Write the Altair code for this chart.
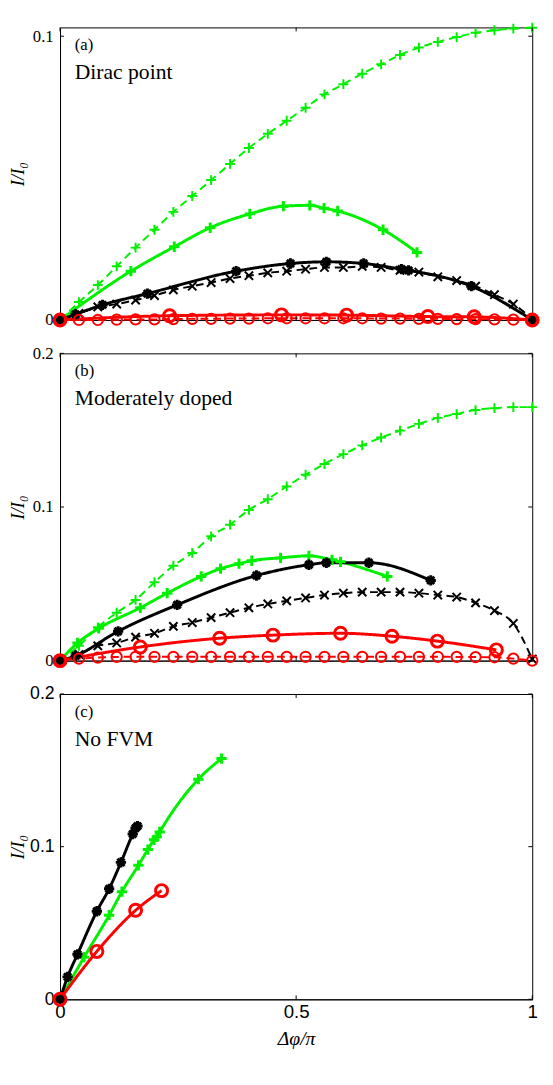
import altair as alt
import pandas as pd

# ---------------- data ----------------
GRID = [0.0, 0.04, 0.08, 0.12, 0.16, 0.2, 0.24, 0.28, 0.32, 0.36, 0.4, 0.44, 0.48,
        0.52, 0.56, 0.6, 0.64, 0.68, 0.72, 0.76, 0.8, 0.84, 0.88, 0.92, 0.96, 1.0]

# Panel (a) Dirac point
A_GD_Y = [0.0, 0.0063, 0.0123, 0.0189, 0.0255, 0.0318, 0.0381, 0.0437, 0.0493, 0.0550,
          0.0606, 0.0656, 0.0702, 0.0748, 0.0795, 0.0831, 0.0868, 0.0901, 0.0934, 0.0960,
          0.0980, 0.0997, 0.1012, 0.1021, 0.1027, 0.1030]
A_GS_X = [0.0, 0.150, 0.242, 0.318, 0.402, 0.473, 0.529, 0.559, 0.588, 0.684, 0.756]
A_GS_Y = [0.0, 0.0172, 0.0258, 0.0325, 0.0374, 0.0401, 0.0404, 0.0394, 0.0384, 0.0318, 0.0238]
A_KD_Y = [0.0, 0.0023, 0.0046, 0.0056, 0.0070, 0.0086, 0.0106, 0.0119, 0.0132, 0.0146,
          0.0156, 0.0166, 0.0172, 0.0179, 0.0185, 0.0185, 0.0189, 0.0185, 0.0175, 0.0169,
          0.0152, 0.0139, 0.0119, 0.0089, 0.0056, 0.0003]
A_KS_X = [0.0, 0.033, 0.090, 0.185, 0.373, 0.488, 0.564, 0.643, 0.723, 0.738, 0.871, 1.0]
A_KS_Y = [0.0, 0.0020, 0.0053, 0.0093, 0.0172, 0.0199, 0.0205, 0.0199, 0.0179, 0.0175, 0.0119, 0.0]
A_RD_Y = [0.0, 0.0, 0.0, 0.0001, 0.0002, 0.0002, 0.0003, 0.0004, 0.0004, 0.0005, 0.0005,
          0.0006, 0.0006, 0.0006, 0.0006, 0.0006, 0.0006, 0.0005, 0.0005, 0.0004, 0.0004,
          0.0003, 0.0003, 0.0002, 0.0001, 0.0]
A_RS_X = [0.0, 0.232, 0.469, 0.607, 0.779, 0.877, 1.0]
A_RS_Y = [0.0, 0.0015, 0.0018, 0.0017, 0.0012, 0.0011, 0.0]

# Panel (b) Moderately doped
B_GD_Y = [0.0, 0.0096, 0.0217, 0.0312, 0.0395, 0.0510, 0.0618, 0.0701, 0.0809, 0.0885,
          0.0981, 0.1051, 0.1134, 0.1210, 0.1280, 0.1344, 0.1401, 0.1452, 0.1497, 0.1541,
          0.1580, 0.1605, 0.1631, 0.1643, 0.1650, 0.1650]
B_GS_X = [0.0, 0.037, 0.082, 0.170, 0.227, 0.299, 0.340, 0.379, 0.406, 0.467, 0.527, 0.576, 0.594, 0.693]
B_GS_Y = [0.0, 0.0115, 0.0210, 0.0344, 0.0439, 0.0548, 0.0599, 0.0631, 0.0650, 0.0669, 0.0682, 0.0656, 0.0643, 0.0548]
B_KD_Y = [0.0, 0.0040, 0.0096, 0.0115, 0.0153, 0.0178, 0.0223, 0.0248, 0.0280, 0.0312,
          0.0344, 0.0369, 0.0389, 0.0408, 0.0427, 0.0439, 0.0446, 0.0446, 0.0446, 0.0439,
          0.0427, 0.0414, 0.0376, 0.0325, 0.0242, 0.0010]
B_KS_X = [0.0, 0.033, 0.123, 0.248, 0.416, 0.527, 0.564, 0.654, 0.785]
B_KS_Y = [0.0, 0.0032, 0.0191, 0.0363, 0.0554, 0.0624, 0.0637, 0.0637, 0.0522]
B_RD_Y = [0.0, 0.0013, 0.0020, 0.0024, 0.0025, 0.0025, 0.0025, 0.0025, 0.0025, 0.0025,
          0.0025, 0.0025, 0.0025, 0.0025, 0.0025, 0.0025, 0.0025, 0.0025, 0.0025, 0.0025,
          0.0025, 0.0024, 0.0023, 0.0022, 0.0013, 0.0]
B_RS_X = [0.0, 0.170, 0.338, 0.451, 0.594, 0.703, 0.799, 0.924]
B_RS_Y = [0.0, 0.0089, 0.0146, 0.0166, 0.0178, 0.0159, 0.0127, 0.0070]

# Panel (c) No FVM
C_KS_X = [0.0, 0.016, 0.037, 0.078, 0.104, 0.129, 0.154, 0.160, 0.164]
C_KS_Y = [0.0, 0.0147, 0.0295, 0.0577, 0.0724, 0.0897, 0.1083, 0.1122, 0.1135]
C_GS_X = [0.0, 0.051, 0.104, 0.131, 0.166, 0.186, 0.199, 0.205, 0.211, 0.293, 0.342]
C_GS_Y = [0.0, 0.0276, 0.0551, 0.0705, 0.0878, 0.0981, 0.1045, 0.1064, 0.1096, 0.1442, 0.1577]
C_RS_X = [0.0, 0.078, 0.160, 0.215]
C_RS_Y = [0.0, 0.0314, 0.0583, 0.0712]

PANEL_TAGS = ["(a)", "(b)", "(c)"]
PANEL_NAMES = ["Dirac point", "Moderately doped", "No FVM"]
X_TICKS = [0, 0.5, 1]
Y_TICKS_A = [0, 0.1]
Y_TICKS_BC = [0, 0.1, 0.2]

# ---------------- styles ----------------
SERIES = ["gd", "gs", "kd", "ks", "rd", "rs"]
GREEN, RED = "#00f000", "#ff0000"
COLORS = [GREEN, GREEN, "black", "black", RED, RED]
DASHES = [[8, 5], [1, 0], [8, 5], [1, 0], [8, 5], [1, 0]]
LINE_W = [2, 3, 2, 3, 2, 3]
PLUS = "M-1,0L1,0M0,-1L0,1"
XMARK = "M-1,-1L1,1M-1,1L1,-1"
STAR = "M-1,0L1,0M0,-1L0,1M-0.7,-0.7L0.7,0.7M-0.7,0.7L0.7,-0.7"
SHAPES = [PLUS, PLUS, XMARK, STAR, "circle", "circle"]
SIZES = [100, 110, 72, 110, 110, 150]
MARK_W = [2.5, 3, 2, 1.4, 2, 2.5]

SERIF = "Liberation Serif"
SANS = "Liberation Sans"
PW = 481
TICK = 4


def frame(series):
    rows = []
    for key, xs, ys in series:
        for xv, yv in zip(xs, ys):
            rows.append({"x": xv, "y": yv, "s": key})
    return pd.DataFrame(rows)


def panel(df, height, ymax, yticks, tag, name, sans, show_x):
    xs = alt.Scale(domain=[0, 1], nice=False, zero=False)
    ys = alt.Scale(domain=[0, ymax], nice=False, zero=False)
    lab_font = SANS if sans else SERIF
    lab_size = 18 if sans else 17
    common = dict(grid=False, ticks=False, domainColor="black", labelColor="black",
                  titleColor="black", labelFlush=False)
    if show_x:
        x_axis = alt.Axis(orient="bottom", values=X_TICKS, format="~g", labelFont=SANS,
                          labelFontSize=19, labelPadding=4, title="Δφ/π", titleFont=SERIF,
                          titleFontSize=20, titleFontWeight="normal", titleFontStyle="italic",
                          titlePadding=7, **common)
    else:
        x_axis = alt.Axis(orient="bottom", values=X_TICKS, labels=False, title=None, **common)
    y_axis = alt.Axis(orient="left", values=yticks, format="~g", labelFont=lab_font,
                      labelFontSize=lab_size, labelPadding=6 if sans else 7, title="I/I₀",
                      titleFont=SERIF, titleFontSize=19, titleFontWeight="normal",
                      titleFontStyle="italic", titlePadding=2 if sans else 5, **common)

    def X(field="x"):
        return alt.X(f"{field}:Q", scale=xs, axis=x_axis)

    def Y(field="y"):
        return alt.Y(f"{field}:Q", scale=ys, axis=y_axis)

    color = alt.Color("s:N", scale=alt.Scale(domain=SERIES, range=COLORS), legend=None)
    lines = alt.Chart(df).mark_line(interpolate="monotone").encode(
        x=X(), y=Y(), color=color,
        strokeDash=alt.StrokeDash("s:N", scale=alt.Scale(domain=SERIES, range=DASHES), legend=None),
        strokeWidth=alt.StrokeWidth("s:N", scale=alt.Scale(type="ordinal", domain=SERIES, range=LINE_W), legend=None),
    )
    points = alt.Chart(df).mark_point(filled=False, opacity=1).encode(
        x=X(), y=Y(), color=color,
        shape=alt.Shape("s:N", scale=alt.Scale(domain=SERIES, range=SHAPES), legend=None),
        size=alt.Size("s:N", scale=alt.Scale(type="ordinal", domain=SERIES, range=SIZES), legend=None),
        strokeWidth=alt.StrokeWidth("s:N", scale=alt.Scale(type="ordinal", domain=SERIES, range=MARK_W), legend=None),
    )
    ydf = pd.DataFrame({"y": yticks})
    xdf = pd.DataFrame({"x": X_TICKS})
    tick_l = alt.Chart(ydf).mark_rule(color="black", strokeWidth=1).encode(
        y=Y(), x=alt.value(0), x2=alt.value(TICK))
    tick_r = alt.Chart(ydf).mark_rule(color="black", strokeWidth=1).encode(
        y=Y(), x=alt.value(PW - TICK), x2=alt.value(PW))
    tick_t = alt.Chart(xdf).mark_rule(color="black", strokeWidth=1).encode(
        x=X(), y=alt.value(0), y2=alt.value(TICK))
    tick_b = alt.Chart(xdf).mark_rule(color="black", strokeWidth=1).encode(
        x=X(), y=alt.value(height - TICK), y2=alt.value(height))
    tag_text = alt.Chart(pd.DataFrame({"t": [tag]})).mark_text(
        align="left", baseline="alphabetic", font=SERIF, fontSize=17, color="black"
    ).encode(text="t:N", x=alt.value(15), y=alt.value(23))
    name_text = alt.Chart(pd.DataFrame({"t": [name]})).mark_text(
        align="left", baseline="alphabetic", font=SERIF, fontSize=22, color="black"
    ).encode(text="t:N", x=alt.value(15), y=alt.value(53))
    return alt.layer(lines, points, tick_l, tick_r, tick_t, tick_b, tag_text, name_text
                     ).properties(width=PW, height=height)


df_a = frame([("gd", GRID, A_GD_Y), ("gs", A_GS_X, A_GS_Y), ("kd", GRID, A_KD_Y),
              ("ks", A_KS_X, A_KS_Y), ("rd", GRID, A_RD_Y), ("rs", A_RS_X, A_RS_Y)])
df_b = frame([("gd", GRID, B_GD_Y), ("gs", B_GS_X, B_GS_Y), ("kd", GRID, B_KD_Y),
              ("ks", B_KS_X, B_KS_Y), ("rd", GRID, B_RD_Y), ("rs", B_RS_X, B_RS_Y)])
df_c = frame([("gs", C_GS_X, C_GS_Y), ("ks", C_KS_X, C_KS_Y), ("rs", C_RS_X, C_RS_Y)])

pa = panel(df_a, 298, 0.1031, Y_TICKS_A, PANEL_TAGS[0], PANEL_NAMES[0], False, False)
pb = panel(df_b, 313, 0.2, Y_TICKS_BC, PANEL_TAGS[1], PANEL_NAMES[1], False, False)
pc = panel(df_c, 311, 0.2, Y_TICKS_BC, PANEL_TAGS[2], PANEL_NAMES[2], True, True)

chart = alt.vconcat(pa, pb, pc, spacing=34, bounds="flush").properties(
    padding={"left": 0, "top": 0, "right": 0, "bottom": 0}
).configure_view(stroke="black", strokeWidth=1).configure_axis(domainWidth=1)

chart.save("out.html", embed_options={"renderer": "svg", "actions": False})
